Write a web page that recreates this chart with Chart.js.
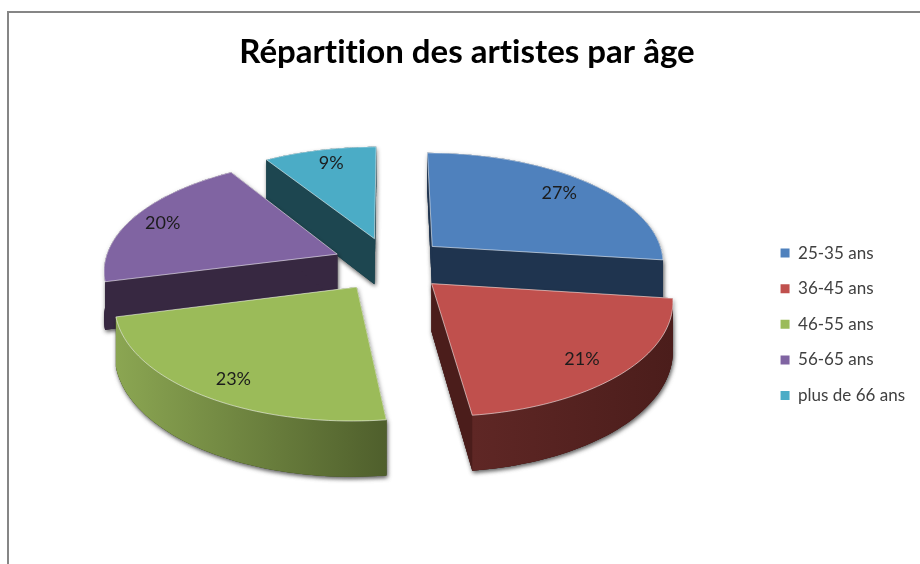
<!DOCTYPE html>
<html><head><meta charset="utf-8">
<style>html,body{margin:0;padding:0;background:#fff}canvas{display:block}</style>
<script src="https://cdn.jsdelivr.net/npm/chart.js@4"></script>
</head><body><canvas id="c" width="920" height="564"></canvas>
<script>
const categories = ['25-35 ans','36-45 ans','46-55 ans','56-65 ans','plus de 66 ans'];
const shares = [27,21,23,20,9];
const topColors = ['#4f81bd','#c0504d','#9bbb59','#8064a2','#4bacc6'];
const wallLeft = ['#1f344f','#5f2725','#8ba652','#372841','#1d4650'];
const wallRight = ['#1f344f','#4b1d1b','#4f5f2c','#372841','#1d4650'];
const labelReach = [0.81,0.83,0.85,0.85,0.83];
const labelTurn = [0,2,-2,-1,1];
const paintOrder = [4,0,3,2,1];
const view = {cx:390, cy:264, rx:233, ry:110, depth:47, persp:0.13};

function project(u,v,h){
  const s = 1/(1 - view.persp*v);
  return [view.cx + view.rx*u*s, view.cy + view.ry*v*s + h*view.depth*s];
}
const pie3d = {
  id:'pie3d',
  beforeDraw(chart){
    const c = chart.ctx;
    c.letterSpacing='0.01px';
    c.save();
    c.fillStyle='#fff'; c.fillRect(0,0,chart.width,chart.height);
    c.strokeStyle='#868686'; c.lineWidth=2;
    c.beginPath(); c.moveTo(8,564); c.lineTo(8,12); c.lineTo(920,12); c.stroke();
    c.restore();
  },
  beforeDatasetsDraw(chart){
    const c = chart.ctx, arcs = chart.getDatasetMeta(0).data;
    const slices = arcs.map((el,i)=>{
      const e = el.options.offset/el.outerRadius;
      const mid = (el.startAngle+el.endAngle)/2;
      const ox = e*Math.cos(mid), oy = e*Math.sin(mid);
      const rim = [];
      const n = 48;
      for(let k=0;k<=n;k++){
        const a = el.startAngle + (el.endAngle-el.startAngle)*k/n;
        rim.push([ox+Math.cos(a), oy+Math.sin(a)]);
      }
      return {i, ox, oy, rim, mid};
    });
    const poly = (pts)=>{ c.beginPath(); pts.forEach((p,j)=> j?c.lineTo(p[0],p[1]):c.moveTo(p[0],p[1])); c.closePath(); };
    paintOrder.forEach(idx=>{
      const sl = slices[idx];
      const apex = [sl.ox, sl.oy];
      const top = [apex,...sl.rim].map(p=>project(p[0],p[1],0));
      const bot = [apex,...sl.rim].map(p=>project(p[0],p[1],1));
      const rimTop = sl.rim.map(p=>project(p[0],p[1],0));
      const rimBot = sl.rim.map(p=>project(p[0],p[1],1));
      const first = sl.rim[0], last = sl.rim[sl.rim.length-1];
      const wallA = [project(apex[0],apex[1],0),project(first[0],first[1],0),project(first[0],first[1],1),project(apex[0],apex[1],1)];
      const wallB = [project(apex[0],apex[1],0),project(last[0],last[1],0),project(last[0],last[1],1),project(apex[0],apex[1],1)];
      const outer = [...rimTop,...rimBot.slice().reverse()];
      c.save();
      c.shadowColor='rgba(0,0,0,0.4)'; c.shadowBlur=4; c.shadowOffsetX=1; c.shadowOffsetY=2;
      c.fillStyle=wallRight[idx];
      poly(wallA); c.fill(); poly(wallB); c.fill(); poly(outer); c.fill(); poly(bot); c.fill();
      c.restore();
      c.fillStyle=wallRight[idx];
      poly(wallA); c.fill(); poly(wallB); c.fill();
      const xs = outer.map(p=>p[0]);
      const g = c.createLinearGradient(Math.min(...xs),0,Math.max(...xs),0);
      g.addColorStop(0,wallLeft[idx]); g.addColorStop(1,wallRight[idx]);
      c.fillStyle=g; poly(outer); c.fill();
      c.fillStyle=topColors[idx]; poly(top); c.fill();
      c.strokeStyle='rgba(255,255,255,0.55)'; c.lineWidth=1; c.lineJoin='round'; c.stroke();
    });
    c.save();
    c.font='18px Lato'; c.fillStyle='#1c1c1c'; c.textAlign='center'; c.textBaseline='middle';
    slices.forEach(sl=>{
      const r = labelReach[sl.i], a = sl.mid + labelTurn[sl.i]*Math.PI/180;
      const p = project(sl.ox+r*Math.cos(a), sl.oy+r*Math.sin(a),0);
      c.fillText(shares[sl.i]+'%',p[0],p[1]);
    });
    c.restore();
    return false;
  }
};
new Chart(document.getElementById('c'),{
  type:'pie',
  data:{labels:categories,datasets:[{data:shares,backgroundColor:topColors,borderWidth:0,offset:52.6}]},
  options:{
    responsive:false, animation:false, rotation:0,
    layout:{padding:{left:19,right:5,top:0,bottom:0}},
    plugins:{
      tooltip:{enabled:false},
      title:{display:true,text:'Répartition des artistes par âge',color:'#000',
        font:{family:'Lato',size:33,weight:'bold'},padding:{top:33,bottom:12}},
      legend:{position:'right',align:'center',fullSize:false,
        labels:{boxWidth:9,boxHeight:9,padding:18.6,color:'#404040',font:{family:'Lato',size:17}}}
    }
  },
  plugins:[pie3d]
});
</script></body></html>
